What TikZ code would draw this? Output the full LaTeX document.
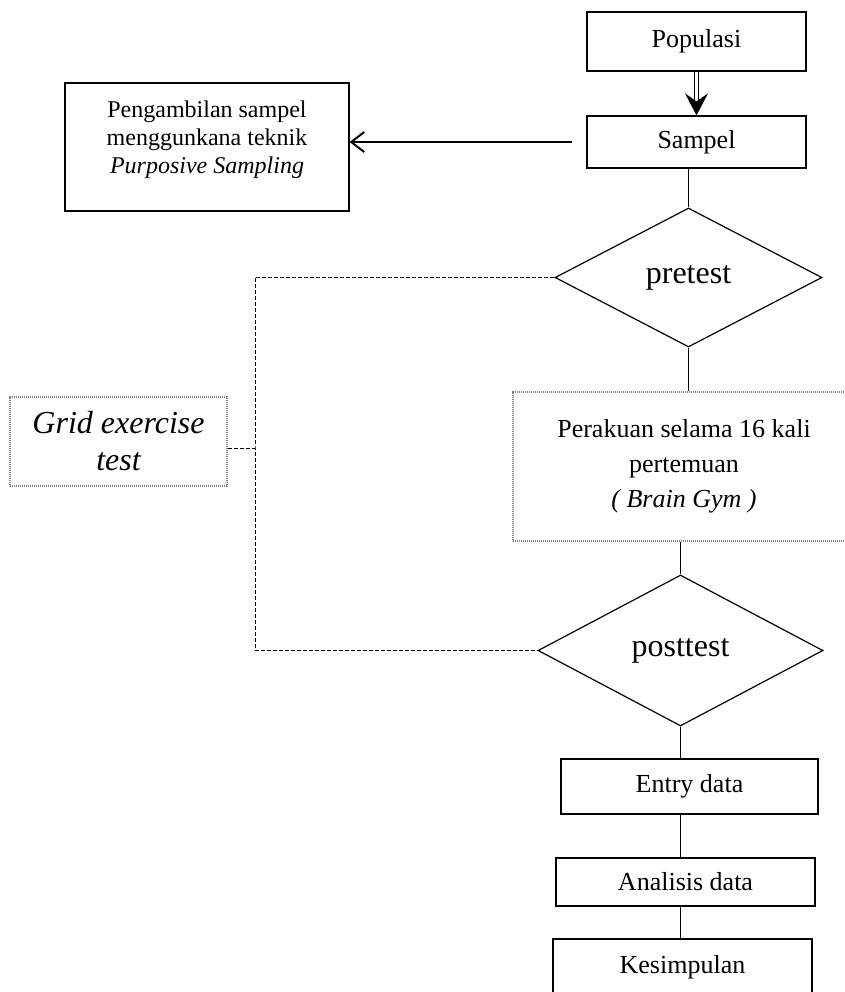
\documentclass[tikz,border=0pt]{standalone}
\usepackage{fontspec}
\setmainfont{Liberation Serif}
\usetikzlibrary{shapes.geometric, arrows.meta}
\tikzset{
box/.style={draw, line width=0.6pt, inner sep=0pt, align=center, font=\fontsize{13}{16}\selectfont},
dotbox/.style={box, draw=gray, dash pattern=on 0.6pt off 0.4pt},
test/.style={draw, diamond, line width=0.6pt, inner sep=0pt, font=\fontsize{16}{19}\selectfont},
link/.style={line width=0.5pt, dash pattern=on 2pt off 1pt},
}

\begin{document}
\begin{tikzpicture}[x=0.5pt, y=-0.5pt]
    \useasboundingbox (0,0) rectangle (845,992);
    \clip (0,0) rectangle (845,992);

    \node[box, minimum width=109.5pt, minimum height=29.5pt] (pop) at (696.5,41.5) {Populasi};
    \node[box, minimum width=109.5pt, minimum height=26pt] (smp) at (696.5,142) {Sampel};
    \node[box, minimum width=142pt, minimum height=64pt, text depth=9.6pt,
          font=\fontsize{12}{14}\selectfont] (ambil) at (207,147)
          {Pengambilan sampel\\ menggunkana teknik\\ \textit{Purposive Sampling}};
    \node[test, minimum width=133.5pt, minimum height=69.5pt] (pre) at (688.5,277.5) {pretest};
    \node[dotbox, minimum width=171pt, minimum height=74.5pt,
          font=\fontsize{13}{17.5}\selectfont] (treat) at (684,466.5)
          {Perakuan selama 16 kali\\ pertemuan\\ \textit{( Brain Gym )}};
    \node[dotbox, minimum width=108.5pt, minimum height=44.5pt,
          font=\fontsize{16}{18.5}\selectfont\itshape] (grid) at (118.5,441.5)
          {Grid exercise\\ test};
    \node[test, minimum width=142.5pt, minimum height=75.5pt] (post) at (680.5,650.5) {posttest};
    \node[box, minimum width=128.5pt, minimum height=27.5pt] (entry) at (689.5,786.5) {Entry data};
    \node[box, minimum width=129.5pt, minimum height=24pt] (anls) at (685.5,882) {Analisis data};
    \node[box, minimum width=129.5pt, minimum height=28pt] (simp) at (682.5,967) {Kesimpulan};
    \coordinate (rail) at (255,448);

    % double arrow and side arrow
    \draw[double, double distance=1.4pt, line width=0.45pt,
          -{Stealth[length=11pt, width=11.5pt, inset=4pt]}] (pop) -- (smp);
    \draw[line width=1pt, -{Straight Barb[length=6.5pt, width=10pt]}, shorten <=7pt]
          (smp.west) -- (smp.west -| ambil.east);

    \draw[line width=0.6pt]
    (pre.north |- smp.south) -- (pre.north)
    (pre.south) -- (pre.south |- treat.north)
    (post.north |- treat.south) -- (post.north)
    (post.south) -- (post.south |- entry.north)
    (post.south |- entry.south) -- (post.south |- anls.north)
    (post.south |- anls.south) -- (post.south |- simp.north)
    ;

    % dashed rail to the grid test
    \draw[link] (pre.west) -| (rail) |- (post.west);
    \draw[link] (grid.east |- rail) -- (rail);
\end{tikzpicture}
\end{document}
